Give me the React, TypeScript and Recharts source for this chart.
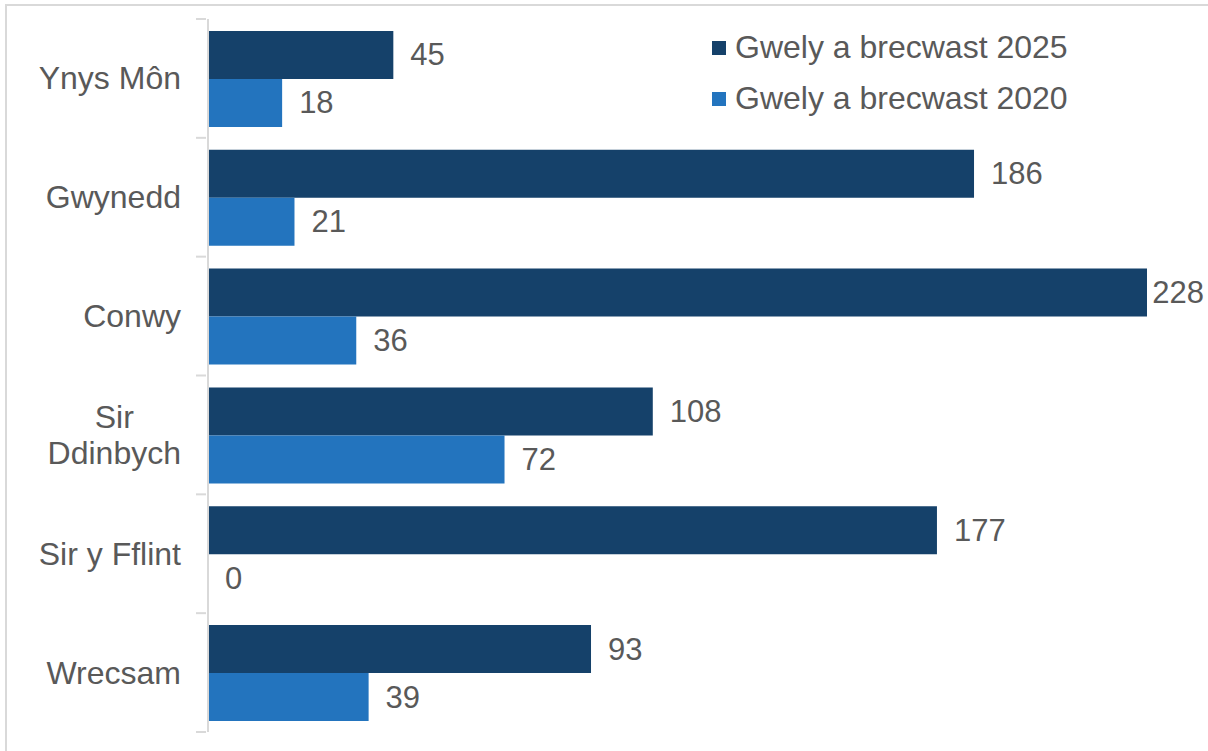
import React from 'react';
import { BarChart, Bar, XAxis, YAxis, LabelList } from 'recharts';

const regions = ['Ynys Môn', 'Gwynedd', 'Conwy', 'Sir Ddinbych', 'Sir y Fflint', 'Wrecsam'];
const beds2025 = [45, 186, 228, 108, 177, 93];
const beds2020 = [18, 21, 36, 72, 0, 39];

const data = regions.map((name, i) => ({ name, y2025: beds2025[i], y2020: beds2020[i] }));

const FONT = '"Liberation Sans", Arial, sans-serif';
const TEXT = '#595959';
const DARK = '#15416A';
const LIGHT = '#2374BE';
const GRID = '#D9D9D9';

const W = 1208;
const H = 751;
const M = { top: 19, right: 61, bottom: 19, left: 0 };
const BAND = (H - M.top - M.bottom) / regions.length;

// wrap long names onto two lines, like the original
const wrapLines = (s: string): string[] => (s === 'Sir Ddinbych' ? ['Sir', 'Ddinbych'] : [s]);

let ctx: CanvasRenderingContext2D | null = null;
const measure = (s: string, size: number) => {
    if (!ctx) ctx = document.createElement('canvas').getContext('2d');
    if (!ctx) return s.length * size * 0.55;
    ctx.font = `${size}px ${FONT}`;
    return ctx.measureText(s).width;
};

const CategoryTick = (props: any) => {
    const { x, y, payload, index } = props;
    const lines = wrapLines(payload.value);
    const right = 181;
    const w = Math.max(...lines.map((l) => measure(l, 32)));
    const cx = right - w / 2;
    const lh = 36;
    const y0 = y - ((lines.length - 1) * lh) / 2;
    const axisX = x + 10;
    return (
        <g>
            {/* ticks sit on the band edges, not the centres */}
            <line x1={axisX - 10} x2={axisX} y1={y - BAND / 2} y2={y - BAND / 2} stroke={GRID} strokeWidth={2} />
            {index === regions.length - 1 && (
                <line x1={axisX - 10} x2={axisX} y1={y + BAND / 2} y2={y + BAND / 2} stroke={GRID} strokeWidth={2} />
            )}
            <text x={cx} y={y0} textAnchor="middle" fill={TEXT} fontSize={32} fontFamily={FONT} dominantBaseline="central">
                {lines.map((l, i) => (
                    <tspan key={i} x={cx} y={y0 + i * lh}>{l}</tspan>
                ))}
            </text>
        </g>
    );
};

const ValueLabel = (props: any) => {
    const { x, y, width, height, value } = props;
    const s = String(value);
    const tx = Math.min(x + Math.max(width, 0) + 17, W - 4 - measure(s, 31));
    return (
        <text x={tx} y={y + height / 2} fill={TEXT} fontSize={31} fontFamily={FONT} dominantBaseline="central">
            {s}
        </text>
    );
};

const legendItems = [
    { label: 'Gwely a brecwast 2025', color: DARK },
    { label: 'Gwely a brecwast 2020', color: LIGHT },
];

export default function App() {
    return (
        <div style={{ position: 'absolute', left: 0, top: 0, width: W, height: H, background: '#fff', overflow: 'hidden' }}>
            <div style={{ position: 'absolute', left: 5, top: 4, width: 1220, height: 760, border: `2px solid ${GRID}`, boxSizing: 'border-box' }} />
            <BarChart
                width={W}
                height={H}
                data={data}
                layout="vertical"
                margin={M}
                barCategoryGap="10%"
                barGap={0}
            >
                <XAxis type="number" domain={[0, 228]} hide />
                <YAxis
                    type="category"
                    dataKey="name"
                    width={208}
                    axisLine={{ stroke: GRID, strokeWidth: 2 }}
                    tickLine={false}
                    tickSize={10}
                    interval={0}
                    tick={<CategoryTick />}
                />
                <Bar dataKey="y2025" fill={DARK} isAnimationActive={false}>
                    <LabelList dataKey="y2025" content={<ValueLabel />} />
                </Bar>
                <Bar dataKey="y2020" fill={LIGHT} minPointSize={0.01} isAnimationActive={false}>
                    <LabelList dataKey="y2020" content={<ValueLabel />} />
                </Bar>
            </BarChart>
            <div style={{ position: 'absolute', left: 712, top: 22, fontFamily: FONT, fontSize: 32, color: TEXT }}>
                {legendItems.map((it) => (
                    <div key={it.label} style={{ display: 'flex', alignItems: 'center', height: 51 }}>
                        <span style={{ display: 'inline-block', width: 14, height: 14, background: it.color, marginRight: 9 }} />
                        <span>{it.label}</span>
                    </div>
                ))}
            </div>
        </div>
    );
}
